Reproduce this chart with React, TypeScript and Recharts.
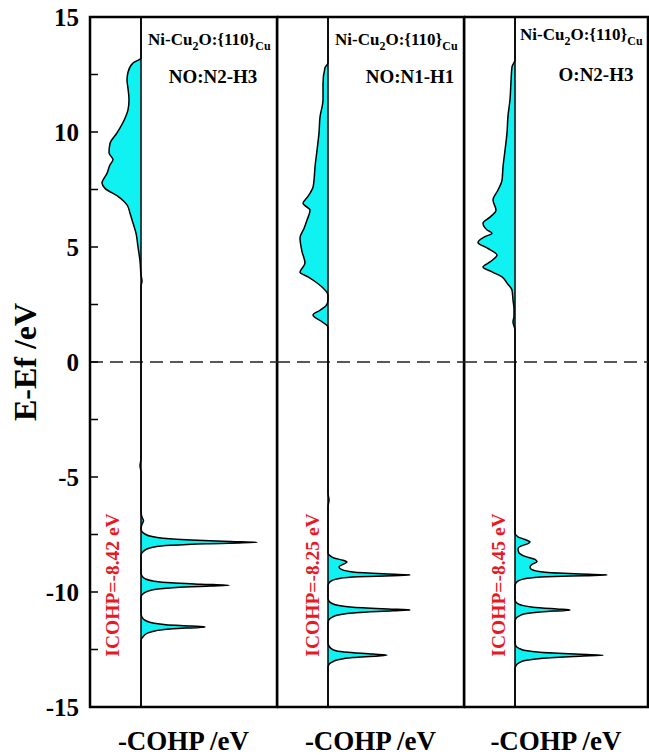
import React from 'react';
import { ComposedChart, Area, XAxis, YAxis, ReferenceLine, ReferenceArea } from 'recharts';

type Pt = [number, number]; // [E - Ef (eV), -COHP]

const panel1: Pt[] = [
  [-15, 0], [-12.1, 0], [-11.95, 0.02], [-11.8, 0.06], [-11.68, 0.15], [-11.6, 0.32], [-11.54, 0.58], [-11.52, 0.64],
  [-11.48, 0.5], [-11.42, 0.25], [-11.35, 0.12], [-11.25, 0.05], [-11.1, 0.01], [-10.9, 0],
  [-10.2, 0], [-10.08, 0.02], [-9.98, 0.06], [-9.88, 0.15], [-9.8, 0.35], [-9.74, 0.7], [-9.71, 0.88],
  [-9.66, 0.6], [-9.6, 0.3], [-9.52, 0.12], [-9.42, 0.04], [-9.3, 0.01], [-9.2, 0],
  [-8.4, 0], [-8.25, 0.02], [-8.15, 0.05], [-8.05, 0.12], [-7.97, 0.3], [-7.9, 0.65], [-7.84, 1.16],
  [-7.8, 0.9], [-7.74, 0.5], [-7.66, 0.22], [-7.58, 0.1], [-7.48, 0.04], [-7.38, 0.01], [-7.25, 0],
  [-7.05, 0.01], [-6.9, 0.025], [-6.75, 0.01], [-6.5, 0], [-4.8, 0], [-4.5, -0.01], [-4.2, 0],
  [3.3, 0], [3.5, 0.01], [3.8, 0], [4.4, -0.01], [5.0, -0.03], [5.6, -0.05], [6.04, -0.08], [6.47, -0.11],
  [6.83, -0.14], [7.2, -0.23], [7.55, -0.36], [7.78, -0.39], [8.2, -0.34], [8.57, -0.31], [8.8, -0.28],
  [9.1, -0.32], [9.5, -0.31], [9.96, -0.24], [10.6, -0.16], [10.96, -0.13], [11.4, -0.12], [11.9, -0.13],
  [12.26, -0.14], [12.6, -0.13], [13.0, -0.08], [13.22, 0], [15, 0],
];

const panel2: Pt[] = [
  [-15, 0], [-13.3, 0], [-13.15, 0.01], [-13.05, 0.04], [-12.95, 0.1], [-12.85, 0.25], [-12.78, 0.5], [-12.74, 0.59],
  [-12.7, 0.45], [-12.62, 0.2], [-12.55, 0.08], [-12.45, 0.03], [-12.35, 0.01], [-12.2, 0],
  [-11.35, 0], [-11.2, 0.01], [-11.1, 0.04], [-11.0, 0.1], [-10.9, 0.28], [-10.82, 0.65], [-10.78, 0.82],
  [-10.74, 0.6], [-10.66, 0.25], [-10.58, 0.1], [-10.5, 0.04], [-10.4, 0.01], [-10.25, 0],
  [-9.75, 0], [-9.6, 0.01], [-9.5, 0.04], [-9.42, 0.1], [-9.34, 0.3], [-9.29, 0.65], [-9.26, 0.82],
  [-9.21, 0.55], [-9.13, 0.25], [-9.03, 0.14], [-8.91, 0.11], [-8.8, 0.15], [-8.7, 0.19], [-8.62, 0.15],
  [-8.52, 0.06], [-8.42, 0.02], [-8.3, 0],
  [-6.3, 0], [-6.0, 0.01], [-5.7, 0], [1.4, 0], [1.52, 0], [1.75, -0.06], [2.04, -0.15], [2.25, -0.08],
  [2.45, -0.02], [2.7, 0], [2.9, 0], [3.26, -0.06], [3.5, -0.13], [3.7, -0.2], [3.9, -0.28], [4.3, -0.23],
  [4.8, -0.26], [5.4, -0.28], [5.8, -0.24], [6.17, -0.21], [6.6, -0.18], [6.9, -0.25], [7.2, -0.2],
  [7.6, -0.15], [7.9, -0.14], [8.48, -0.13], [9.2, -0.11], [9.96, -0.09], [10.65, -0.08], [11.4, -0.05],
  [12.1, -0.05], [12.8, -0.03], [13.0, 0], [15, 0],
];

const panel3: Pt[] = [
  [-15, 0], [-13.35, 0], [-13.2, 0.01], [-13.08, 0.04], [-12.98, 0.1], [-12.88, 0.28], [-12.79, 0.65], [-12.75, 0.88],
  [-12.7, 0.6], [-12.62, 0.25], [-12.54, 0.1], [-12.45, 0.04], [-12.35, 0.01], [-12.2, 0],
  [-11.3, 0], [-11.15, 0.01], [-11.05, 0.04], [-10.95, 0.1], [-10.86, 0.28], [-10.8, 0.5], [-10.78, 0.55],
  [-10.74, 0.42], [-10.66, 0.18], [-10.58, 0.07], [-10.48, 0.02], [-10.35, 0],
  [-9.75, 0], [-9.6, 0.01], [-9.5, 0.04], [-9.42, 0.1], [-9.34, 0.32], [-9.29, 0.7], [-9.26, 0.92],
  [-9.21, 0.6], [-9.13, 0.28], [-9.03, 0.17], [-8.92, 0.15], [-8.8, 0.17], [-8.68, 0.22], [-8.58, 0.2],
  [-8.45, 0.1], [-8.3, 0.04], [-8.12, 0.03], [-8.0, 0.06], [-7.9, 0.13], [-7.83, 0.15], [-7.72, 0.1],
  [-7.6, 0.03], [-7.45, 0],
  [1.4, 0], [1.74, -0.02], [2.0, -0.01], [2.3, -0.01], [2.7, -0.02], [3.13, -0.03], [3.43, -0.08],
  [3.7, -0.13], [3.9, -0.22], [4.13, -0.32], [4.35, -0.25], [4.65, -0.18], [4.96, -0.28], [5.2, -0.37],
  [5.45, -0.3], [5.6, -0.23], [5.74, -0.28], [6.04, -0.32], [6.3, -0.25], [6.6, -0.19], [7.04, -0.22],
  [7.48, -0.17], [7.9, -0.13], [8.48, -0.12], [9.2, -0.1], [9.96, -0.08], [10.7, -0.07], [11.4, -0.05],
  [12.2, -0.04], [12.83, -0.03], [13.13, 0], [15, 0],
];

const energyTicks = [-15, -12.5, -10, -7.5, -5, -2.5, 0, 2.5, 5, 7.5, 10, 12.5, 15];
const labeledTicks = [-15, -10, -5, 0, 5, 10, 15];
const systemMain = 'Ni-Cu';
const systemSub1 = '2';
const systemMid = 'O:{110}';
const systemSub2 = 'Cu';
const bondLabels = ['NO:N2-H3', 'NO:N1-H1', 'O:N2-H3'];
const icohpLabels = ['ICOHP=-8.42 eV', 'ICOHP=-8.25 eV', 'ICOHP=-8.45 eV'];
const yTitle = 'E-Ef /eV';
const xTitle = '-COHP /eV';

const SERIF = '"Liberation Serif", "Times New Roman", serif';
const FILL = '#10F2F2';
const X_MIN = -0.51;

interface PanelProps {
  data: Pt[];
  plotLeft: number;
  plotWidth: number;
  showAxis: boolean;
}

function Panel({ data, plotLeft, plotWidth, showAxis }: PanelProps) {
  const rows = data.map(([e, v]) => ({ e, v }));
  const axisW = showAxis ? 90 : 0;
  const xMax = X_MIN + plotWidth / 100;
  return (
    <div style={{ position: 'absolute', left: plotLeft - axisW, top: 0 }}>
      <ComposedChart
        layout="vertical"
        width={axisW + plotWidth + 2}
        height={755}
        data={rows}
        margin={{ top: 17, right: 2, bottom: 48, left: 0 }}
      >
        <XAxis type="number" domain={[X_MIN, xMax]} hide allowDataOverflow />
        <YAxis
          type="number"
          dataKey="e"
          domain={[-15, 15]}
          reversed
          ticks={energyTicks}
          interval={0}
          hide={!showAxis}
          width={90}
          allowDataOverflow
          tickSize={-8}
          tickMargin={19}
          tickLine={{ stroke: '#000', strokeWidth: 1.5 }}
          axisLine={{ stroke: '#000', strokeWidth: 2 }}
          tickFormatter={(v: number) => (labeledTicks.includes(v) ? String(v) : '')}
          tick={{ fontFamily: SERIF, fontWeight: 'bold', fontSize: 25, fill: '#000' }}
        />
        <ReferenceLine y={0} stroke="#222" strokeWidth={1.5} strokeDasharray="13 7" />
        <Area
          type="monotone"
          dataKey="v"
          stroke="#000"
          strokeWidth={1.5}
          fill={FILL}
          fillOpacity={1}
          dot={false}
          activeDot={false}
          isAnimationActive={false}
        />
        <ReferenceLine x={0} stroke="#000" strokeWidth={1.5} />
        <ReferenceArea x1={X_MIN} x2={xMax} y1={-15} y2={15} fill="none" fillOpacity={0} stroke="#000" strokeWidth={2.5} />
      </ComposedChart>
    </div>
  );
}

const panels = [
  { data: panel1, plotLeft: 90, plotWidth: 187, showAxis: true, titleX: 148, titleY: 45, bondX: 213, bondY: 83, redX: 112 },
  { data: panel2, plotLeft: 277, plotWidth: 187, showAxis: false, titleX: 335, titleY: 45, bondX: 410, bondY: 83, redX: 312 },
  { data: panel3, plotLeft: 464, plotWidth: 184, showAxis: false, titleX: 520, titleY: 40, bondX: 596, bondY: 81, redX: 498 },
];

export default function App() {
  return (
    <div style={{ position: 'absolute', left: 0, top: 0, width: 649, height: 755, background: '#fff', overflow: 'hidden' }}>
      {panels.map((p, i) => (
        <Panel key={i} data={p.data} plotLeft={p.plotLeft} plotWidth={p.plotWidth} showAxis={p.showAxis} />
      ))}
      <svg width={649} height={755} style={{ position: 'absolute', left: 0, top: 0, pointerEvents: 'none' }}>
        <text
          x={0}
          y={0}
          transform="translate(36,362) rotate(-90)"
          textAnchor="middle"
          fontFamily={SERIF}
          fontWeight="bold"
          fontSize={32}
          fill="#000"
        >
          {yTitle}
        </text>
        {panels.map((p, i) => (
          <g key={i}>
            <text x={p.titleX} y={p.titleY} fontFamily={SERIF} fontWeight="bold" fontSize={17} fill="#000">
              {systemMain}
              <tspan fontSize={12} dy={5}>{systemSub1}</tspan>
              <tspan fontSize={17} dy={-5}>{systemMid}</tspan>
              <tspan fontSize={12} dy={5}>{systemSub2}</tspan>
            </text>
            <text x={p.bondX} y={p.bondY} textAnchor="middle" fontFamily={SERIF} fontWeight="bold" fontSize={19} fill="#000">
              {bondLabels[i]}
            </text>
            <text
              x={0}
              y={0}
              transform={`translate(${p.redX + 7},585) rotate(-90)`}
              textAnchor="middle"
              fontFamily={SERIF}
              fontWeight="bold"
              fontSize={19.5}
              fill="#E8191F"
            >
              {icohpLabels[i]}
            </text>
            <text
              x={p.plotLeft + p.plotWidth / 2}
              y={750}
              textAnchor="middle"
              fontFamily={SERIF}
              fontWeight="bold"
              fontSize={27}
              fill="#000"
            >
              {xTitle}
            </text>
          </g>
        ))}
      </svg>
    </div>
  );
}
